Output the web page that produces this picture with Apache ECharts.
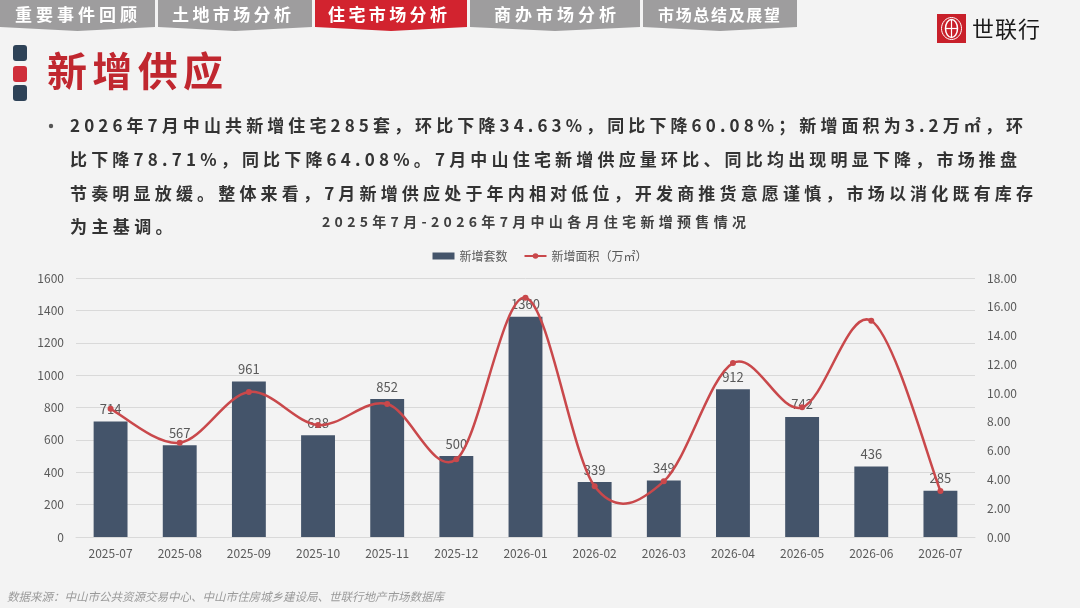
<!DOCTYPE html>
<html>
<head>
<meta charset="utf-8">
<script src="https://cdn.jsdelivr.net/npm/echarts@6.0.0/dist/echarts.min.js"></script>
<style>
  html, body { margin: 0; padding: 0; background: #f3f3f3; }
  #container { width: 1080px; height: 608px; }
</style>
</head>
<body>
<div id="container"></div>
<script>
const months = ['2025-07', '2025-08', '2025-09', '2025-10', '2025-11', '2025-12', '2026-01',
  '2026-02', '2026-03', '2026-04', '2026-05', '2026-06', '2026-07'];
const units = [714, 567, 961, 628, 852, 500, 1360, 339, 349, 912, 742, 436, 285];
const area = [8.91, 6.55, 10.08, 7.78, 9.24, 5.4, 16.63, 3.52, 3.87, 12.09, 9.01, 15.03, 3.2];

const seriesNames = ['新增套数', '新增面积（万㎡）'];
const tabNames = ['重要事件回顾', '土地市场分析', '住宅市场分析', '商办市场分析', '市场总结及展望'];
const activeTab = 2;
const heading = '新增供应';
const paragraph = [
  '2026年7月中山共新增住宅285套，环比下降34.63%，同比下降60.08%；新增面积为3.2万㎡，环',
  '比下降78.71%，同比下降64.08%。7月中山住宅新增供应量环比、同比均出现明显下降，市场推盘',
  '节奏明显放缓。整体来看，7月新增供应处于年内相对低位，开发商推货意愿谨慎，市场以消化既有库存',
  '为主基调。'
];
const chartTitle = '2025年7月-2026年7月中山各月住宅新增预售情况';
const sourceNote = '数据来源：中山市公共资源交易中心、中山市住房城乡建设局、世联行地产市场数据库';
const brand = '世联行';

const FONT = '"Noto Sans CJK SC", "Noto Sans", sans-serif';
const RED = '#c9484b';
const measure = document.createElement('canvas').getContext('2d');

// lay out a string char by char so it gets letter spacing (or fills a width)
function spaced(str, x, y, opt) {
  const chars = Array.from(str);
  const weight = opt.weight || 'normal';
  measure.font = weight + ' ' + opt.size + 'px ' + FONT;
  const widths = chars.map(c => measure.measureText(c).width);
  const natural = widths.reduce((a, b) => a + b, 0);
  let gap = opt.gap || 0;
  if (opt.width) gap = (opt.width - natural) / (chars.length - 1);
  let cx = x;
  return chars.map((c, i) => {
    const el = {
      type: 'text',
      x: cx,
      y: y,
      silent: true,
      style: {
        text: c,
        fill: opt.color,
        fontSize: opt.size,
        fontWeight: weight,
        fontFamily: FONT,
        textAlign: 'left',
        textVerticalAlign: 'middle'
      }
    };
    cx += widths[i] + gap;
    return el;
  });
}

const tabSpans = [[0, 155], [158, 312], [315, 467], [470, 640], [643, 797]];
const tabText = [[15, 122], [172, 119], [328, 119], [494, 122], [658, 122]];

const graphics = [];
tabNames.forEach((name, i) => {
  const [a, b] = tabSpans[i];
  graphics.push({
    type: 'polygon',
    silent: true,
    shape: { points: [[a, 0], [b, 0], [b, 27], [(a + b) / 2, 31], [a, 27]] },
    style: { fill: i === activeTab ? '#d2232f' : '#9e9d9e' }
  });
  graphics.push(...spaced(name, tabText[i][0], 15, {
    size: i === 4 ? 16 : 17, weight: 'bold', color: '#ffffff', width: tabText[i][1]
  }));
});

// section markers + heading
[['#2e4257', 45], ['#cf2e3a', 66], ['#2e4257', 85]].forEach(([c, y]) => {
  graphics.push({
    type: 'rect', silent: true,
    shape: { x: 13, y: y, width: 14, height: 16, r: 3 },
    style: { fill: c }
  });
});
graphics.push(...spaced(heading, 47, 71, { size: 40, weight: 'bold', color: '#c0272f', width: 176 }));

// logo
graphics.push({
  type: 'rect', silent: true,
  shape: { x: 937, y: 14, width: 29, height: 29 },
  style: { fill: '#c8202a' }
});
graphics.push({
  type: 'ellipse', silent: true,
  shape: { cx: 951.5, cy: 28.5, rx: 6, ry: 9 },
  style: { fill: 'none', stroke: '#ffffff', lineWidth: 1.5 }
});
graphics.push({
  type: 'ellipse', silent: true,
  shape: { cx: 951.5, cy: 28.5, rx: 10, ry: 11 },
  style: { fill: 'none', stroke: '#ffffff', lineWidth: 1 }
});
graphics.push({
  type: 'line', silent: true,
  shape: { x1: 951.5, y1: 20, x2: 951.5, y2: 37 },
  style: { stroke: '#ffffff', lineWidth: 1.2 }
});
graphics.push({
  type: 'line', silent: true,
  shape: { x1: 946, y1: 28.5, x2: 957, y2: 28.5 },
  style: { stroke: '#ffffff', lineWidth: 1.2 }
});
graphics.push(...spaced(brand, 972, 29, { size: 22, color: '#1a1a1a', gap: 1 }));

// bullet paragraph
graphics.push({
  type: 'circle', silent: true,
  shape: { cx: 51, cy: 126, r: 2.2 },
  style: { fill: '#555555' }
});
const lineY = [126, 160, 194, 227];
const lineW = [953, 947, 963, 0];
paragraph.forEach((t, i) => {
  const opt = { size: 17, weight: 'bold', color: '#333333' };
  if (lineW[i]) opt.width = lineW[i]; else opt.gap = 4.4;
  graphics.push(...spaced(t, 70, lineY[i], opt));
});

// chart title
graphics.push(...spaced(chartTitle, 322, 222, { size: 14, weight: 'bold', color: '#404040', width: 424 }));

// source note
graphics.push({
  type: 'text', silent: true, x: 7, y: 597,
  style: {
    text: sourceNote, fill: '#9a9a9a', fontSize: 11.5, fontStyle: 'italic', fontFamily: FONT,
    textAlign: 'left', textVerticalAlign: 'middle'
  }
});

// Excel-like smoothed curve: one cubic segment per data point (Catmull-Rom)
function renderCurve(params, api) {
  const i = params.dataIndex;
  const n = params.dataInsideLength;
  if (i >= n - 1) return null;
  const pt = k => {
    const j = Math.max(0, Math.min(n - 1, k));
    return api.coord([api.value(0, j), api.value(1, j)]);
  };
  const p0 = pt(i - 1), p1 = pt(i), p2 = pt(i + 1), p3 = pt(i + 2);
  return {
    type: 'bezierCurve',
    shape: {
      x1: p1[0], y1: p1[1],
      x2: p2[0], y2: p2[1],
      cpx1: p1[0] + (p2[0] - p0[0]) / 6, cpy1: p1[1] + (p2[1] - p0[1]) / 6,
      cpx2: p2[0] - (p3[0] - p1[0]) / 6, cpy2: p2[1] - (p3[1] - p1[1]) / 6
    },
    style: { fill: null, stroke: RED, lineWidth: 2.5 }
  };
}

const chart = echarts.init(document.getElementById('container'));

const axisText = { color: '#595959', fontSize: 12, fontFamily: FONT };

chart.setOption({
  backgroundColor: '#f3f3f3',
  animation: false,
  graphic: graphics,
  legend: {
    top: 245,
    left: 'center',
    itemWidth: 22,
    itemHeight: 7,
    itemGap: 16,
    textStyle: { color: '#595959', fontSize: 12, fontFamily: FONT },
    data: [
      { name: seriesNames[0], icon: 'rect' },
      { name: seriesNames[1], lineStyle: { color: RED, width: 2, opacity: 1 } }
    ]
  },
  grid: {
    left: 76, right: 105, top: 278, bottom: 71,
    containLabel: false,
    outerBoundsMode: 'none'
  },
  xAxis: {
    type: 'category',
    data: months,
    axisLine: { lineStyle: { color: '#d9d9d9' } },
    axisTick: { show: false },
    axisLabel: { ...axisText, margin: 10 }
  },
  yAxis: [
    {
      type: 'value',
      min: 0, max: 1600, interval: 200,
      axisLine: { show: false },
      axisTick: { show: false },
      splitLine: { lineStyle: { color: '#d9d9d9' } },
      axisLabel: { ...axisText, margin: 12, formatter: v => String(v) }
    },
    {
      type: 'value',
      min: 0, max: 18, interval: 2,
      axisLine: { show: false },
      axisTick: { show: false },
      splitLine: { show: false },
      axisLabel: { ...axisText, margin: 12, formatter: v => v.toFixed(2) }
    }
  ],
  series: [
    {
      name: seriesNames[0],
      type: 'bar',
      data: units,
      barWidth: '49%',
      itemStyle: { color: '#44546a' },
      label: {
        show: true,
        position: 'top',
        distance: 6,
        color: '#595959',
        fontSize: 13,
        fontFamily: FONT
      }
    },
    {
      name: seriesNames[1],
      type: 'line',
      yAxisIndex: 1,
      data: area,
      symbol: 'circle',
      symbolSize: 6,
      itemStyle: { color: RED },
      lineStyle: { color: RED, width: 2.5, opacity: 0 },
      z: 4
    },
    {
      name: seriesNames[1],
      type: 'custom',
      yAxisIndex: 1,
      data: area.map((v, i) => [i, v]),
      encode: { x: 0, y: 1 },
      renderItem: renderCurve,
      silent: true,
      z: 3
    }
  ]
});
</script>
</body>
</html>
